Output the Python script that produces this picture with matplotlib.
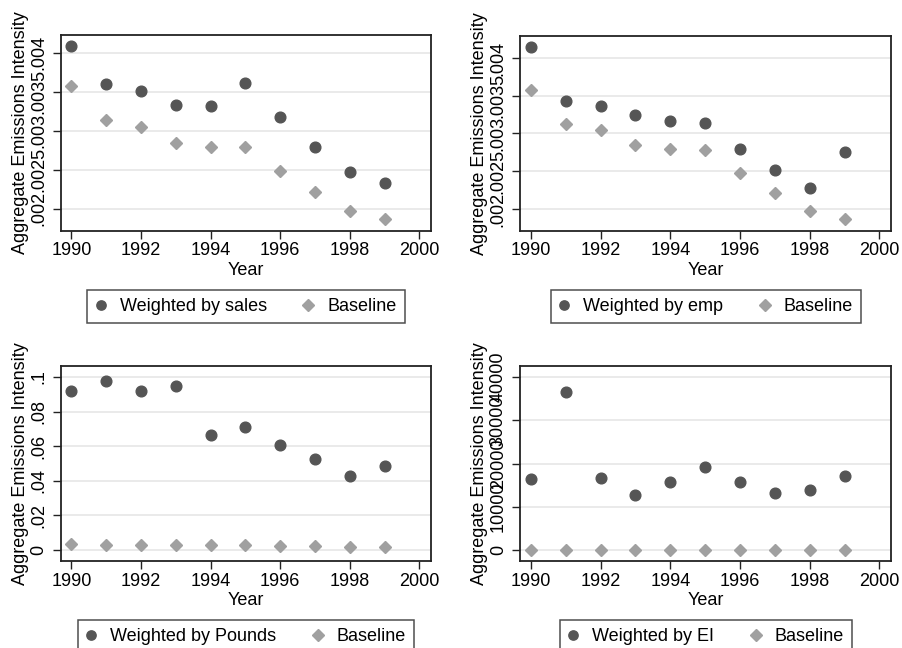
import matplotlib
matplotlib.use("Agg")
import matplotlib.pyplot as plt
from matplotlib.lines import Line2D

# -----------------------
# Data
# -----------------------
years = [1990, 1991, 1992, 1993, 1994, 1995, 1996, 1997, 1998, 1999]

baseline = [0.003573, 0.003132, 0.003043, 0.002846, 0.002791,
            0.002786, 0.002483, 0.002209, 0.001974, 0.001863]

by_sales = [0.00408, 0.003598, 0.003509, 0.003325, 0.003316,
            0.003611, 0.003171, 0.002795, 0.002466, 0.002325]

by_emp = [0.00415, 0.003435, 0.00336, 0.003249, 0.003161,
          0.003139, 0.002795, 0.002517, 0.002283, 0.002751]

by_pounds = [0.0919, 0.0975, 0.0921, 0.0946, 0.0665,
             0.0711, 0.0605, 0.0528, 0.0430, 0.0487]

by_ei = [16490, 36610, 16720, 12640, 15650,
         19190, 15720, 13180, 13800, 17190]

small_ticks = [0.002, 0.0025, 0.003, 0.0035, 0.004]
small_labels = [".002", ".0025", ".003", ".0035", ".004"]
pounds_ticks = [0, 0.02, 0.04, 0.06, 0.08, 0.1]
pounds_labels = ["0", ".02", ".04", ".06", ".08", ".1"]
ei_ticks = [0, 10000, 20000, 30000, 40000]
ei_labels = ["0", "10000", "20000", "30000", "40000"]

x_ticks = [1990, 1992, 1994, 1996, 1998, 2000]

plt.rcParams["font.family"] = ["Liberation Sans", "DejaVu Sans"]

DARK = "#555555"
LIGHT = "#a0a0a0"
FS = 13

fig = plt.figure(figsize=(9.02, 6.48), dpi=100)

panels = [
    # (rect, series, label, yticks, ylabels, ylim, legend center x, legend top y)
    ([0.0673, 0.644, 0.4105, 0.302], by_sales, "Weighted by sales",
     small_ticks, small_labels, (0.001718, 0.004226), 246, 290),
    ([0.5765, 0.644, 0.4113, 0.3005], by_emp, "Weighted by emp",
     small_ticks, small_labels, (0.001713, 0.004291), 706, 290),
    ([0.0673, 0.1347, 0.4105, 0.3005], by_pounds, "Weighted by Pounds",
     pounds_ticks, pounds_labels, (-0.00617, 0.1064), 246, 620),
    ([0.5765, 0.1347, 0.4113, 0.3005], by_ei, "Weighted by EI",
     ei_ticks, ei_labels, (-2466, 42543), 706, 620),
]

for rect, series, label, yt, yl, ylim, lx, ly in panels:

    ax = fig.add_axes(rect)

    # baseline in the last two panels is the same series (near zero there)
    ax.plot(years, series, linestyle="none", marker="o",
            markersize=7.7, color=DARK, zorder=3)
    ax.plot(years, baseline, linestyle="none", marker="D",
            markersize=6.6, color=LIGHT, zorder=3)

    ax.set_xlim(1989.69, 2000.33)
    ax.set_ylim(*ylim)
    ax.set_xticks(x_ticks)
    ax.set_yticks(yt)
    ax.set_yticklabels(yl, rotation=90, va="center")

    ax.grid(axis="y", color="#e6e6e6", linewidth=1.2, zorder=0)
    ax.set_axisbelow(True)

    for s in ax.spines.values():
        s.set_linewidth(1.3)
        s.set_color("#222222")

    ax.tick_params(axis="both", direction="out", length=5.5, width=1.0,
                   labelsize=FS, color="#222222")
    ax.tick_params(axis="x", pad=3)
    ax.tick_params(axis="y", pad=4)

    ax.set_xlabel("Year", fontsize=FS, labelpad=1.5)
    ax.set_ylabel("Aggregate Emissions Intensity", fontsize=FS, labelpad=1)

    handles = [
        Line2D([], [], linestyle="none", marker="o", markersize=6.7, color=DARK),
        Line2D([], [], linestyle="none", marker="D", markersize=6.0, color=LIGHT),
    ]
    leg = fig.legend(handles, [label, "Baseline"], loc="upper center",
                     bbox_to_anchor=(lx / 902, 1 - ly / 648),
                     ncol=2, fontsize=FS, frameon=True, fancybox=False,
                     handlelength=0.6, handletextpad=0.75, columnspacing=2.0,
                     borderpad=0.45, borderaxespad=0)
    leg.get_frame().set_edgecolor("#222222")
    leg.get_frame().set_linewidth(1.1)

plt.savefig("out.png", dpi=100)
plt.close()
